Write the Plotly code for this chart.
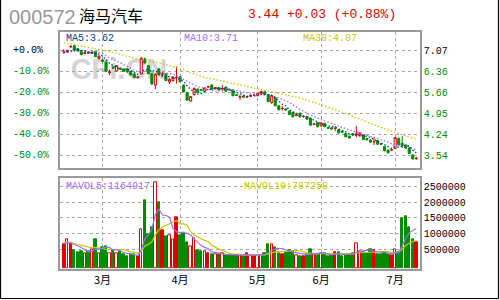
import plotly.graph_objects as go
import pandas as pd

# ---------------- data ----------------
OPEN = [7.03, 7.01, 7.19, 7.22, 7.12, 7.05, 6.96, 7.00, 6.96, 7.03,
        6.79, 6.74, 6.67, 6.31, 6.50, 6.37, 6.46, 6.43, 6.44, 6.35,
        6.27, 6.16, 6.27, 6.78, 6.55, 6.28, 5.89, 6.44, 6.27, 6.27,
        6.00, 6.05, 6.15, 6.18, 5.89, 5.65, 5.36, 5.58, 5.76, 5.74,
        5.69, 5.84, 5.90, 5.78, 5.81, 5.76, 5.83, 5.76, 5.73, 5.57,
        5.49, 5.53, 5.50, 5.52, 5.56, 5.54, 5.60, 5.67, 5.58, 5.31,
        5.47, 5.20, 5.11, 5.10, 5.02, 4.98, 4.87, 4.95, 4.84, 4.84,
        4.78, 4.57, 4.63, 4.52, 4.61, 4.47, 4.46, 4.44, 4.40, 4.34,
        4.27, 4.18, 4.26, 4.22, 4.19, 4.22, 4.10, 4.05, 3.99, 4.03,
        3.93, 3.83, 3.71, 3.72, 3.77, 4.10, 3.94, 3.88, 3.78, 3.55,
        3.44]
HIGH = [7.10, 7.09, 7.24, 7.25, 7.14, 7.07, 7.01, 7.03, 7.02, 7.05,
        6.89, 6.78, 6.69, 6.42, 6.53, 6.57, 6.50, 6.46, 6.47, 6.37,
        6.29, 6.20, 6.83, 6.82, 6.58, 6.31, 6.29, 6.47, 6.35, 6.30,
        6.13, 6.19, 6.52, 6.20, 5.92, 5.67, 5.53, 5.82, 5.78, 5.77,
        5.82, 5.87, 5.92, 5.83, 5.83, 5.90, 5.85, 5.78, 5.75, 5.60,
        5.58, 5.56, 5.54, 5.58, 5.60, 5.64, 5.70, 5.69, 5.60, 5.58,
        5.50, 5.22, 5.20, 5.12, 5.05, 5.00, 4.93, 4.97, 4.87, 4.86,
        4.80, 4.62, 4.65, 4.64, 4.62, 4.50, 4.48, 4.52, 4.42, 4.36,
        4.29, 4.20, 4.28, 4.52, 4.30, 4.24, 4.12, 4.07, 4.14, 4.05,
        3.94, 3.85, 3.73, 3.75, 4.15, 4.14, 4.18, 3.90, 3.82, 3.57,
        3.47]
LOW = [6.95, 6.98, 7.14, 7.06, 7.02, 6.90, 6.93, 6.95, 6.94, 6.84,
       6.76, 6.68, 6.33, 6.23, 6.45, 6.35, 6.41, 6.34, 6.32, 6.22,
       6.13, 6.12, 6.25, 6.62, 6.26, 5.90, 5.76, 6.22, 6.18, 6.03,
       5.93, 6.02, 5.95, 5.99, 5.65, 5.37, 5.33, 5.54, 5.63, 5.70,
       5.67, 5.80, 5.74, 5.75, 5.71, 5.68, 5.67, 5.71, 5.52, 5.53,
       5.40, 5.47, 5.46, 5.50, 5.53, 5.52, 5.58, 5.56, 5.32, 5.26,
       5.18, 5.05, 5.04, 5.04, 4.89, 4.81, 4.85, 4.80, 4.80, 4.73,
       4.53, 4.55, 4.47, 4.50, 4.48, 4.42, 4.40, 4.35, 4.27, 4.29,
       4.14, 4.09, 4.19, 4.14, 4.17, 4.05, 4.03, 3.96, 3.88, 3.89,
       3.88, 3.67, 3.58, 3.68, 3.75, 3.87, 3.78, 3.75, 3.58, 3.40,
       3.38]
CLOSE = [7.03, 7.06, 7.19, 7.08, 7.05, 6.92, 6.98, 6.97, 7.00, 6.85,
         6.87, 6.70, 6.36, 6.34, 6.47, 6.55, 6.44, 6.36, 6.34, 6.24,
         6.15, 6.16, 6.80, 6.64, 6.28, 5.94, 6.27, 6.24, 6.27, 6.05,
         6.09, 6.15, 6.15, 6.01, 5.67, 5.39, 5.51, 5.78, 5.65, 5.72,
         5.80, 5.84, 5.76, 5.81, 5.73, 5.78, 5.69, 5.74, 5.54, 5.55,
         5.51, 5.49, 5.50, 5.55, 5.56, 5.62, 5.68, 5.58, 5.34, 5.54,
         5.20, 5.07, 5.11, 5.06, 4.91, 4.83, 4.90, 4.83, 4.84, 4.75,
         4.55, 4.59, 4.50, 4.62, 4.50, 4.45, 4.42, 4.44, 4.29, 4.32,
         4.16, 4.12, 4.22, 4.25, 4.28, 4.07, 4.06, 3.98, 3.99, 3.91,
         3.91, 3.69, 3.63, 3.72, 4.13, 3.88, 3.86, 3.78, 3.60, 3.41,
         3.44]
VOLUME = [658000, 818000, 691000, 469000, 428000, 450000, 396000, 450000, 500000, 840000,
          396000, 586000, 608000, 396000, 469000, 396000, 450000, 343000, 290000, 343000,
          343000, 290000, 1157000, 2054000, 1000000, 1220000, 2637000, 1990000, 1125000, 913000,
          957000, 818000, 1520000, 967000, 1010000, 745000, 608000, 872000, 469000, 451000,
          460000, 396000, 365000, 343000, 343000, 375000, 322000, 322000, 322000, 322000,
          322000, 280000, 396000, 322000, 322000, 322000, 322000, 386000, 660000, 681000,
          586000, 396000, 365000, 428000, 469000, 450000, 322000, 300000, 290000, 365000,
          512000, 365000, 322000, 396000, 396000, 290000, 322000, 428000, 428000, 290000,
          343000, 343000, 396000, 713000, 450000, 428000, 396000, 500000, 469000, 365000,
          365000, 430000, 366000, 322000, 502000, 427995, 1500000, 1560000, 1200000, 820000,
          744585]
# sessions before the visible window (needed for the moving averages)
PRIOR_CLOSE = [7.72, 7.68, 7.75, 7.62, 7.58, 7.66, 7.55, 7.60, 7.52, 7.48, 7.50,
               7.42, 7.35, 7.30, 7.28, 7.33, 7.25, 7.22, 7.30, 7.26,
               7.15, 7.08, 7.02, 6.98, 7.05, 6.96, 6.99, 6.94, 7.01]
PRIOR_VOLUME = [820000, 760000, 790000, 740000, 790000, 690000, 720000, 660000, 722000]

MONTH_START = [11, 33, 55, 73, 94]
MONTH_LABELS = ['3月', '4月', '5月', '6月', '7月']
BASE_PRICE = 7.07
PCT_LEVELS = [0, -10, -20, -30, -40, -50]
PCT_LABELS = ['+0.0%', '-10.0%', '-20.0%', '-30.0%', '-40.0%', '-50.0%']
PRICE_LABELS = ['7.07', '6.36', '5.66', '4.95', '4.24', '3.54']
VOL_TICKS = [500000, 1000000, 1500000, 2000000, 2500000]
STOCK_CODE = '000572'
STOCK_NAME = '海马汽车'

# ---------------- derived ----------------
n = len(CLOSE)
X = list(range(n))
cs = pd.Series(PRIOR_CLOSE + CLOSE)
k = len(PRIOR_CLOSE)
ma5 = cs.rolling(5).mean().iloc[k:].tolist()
ma10 = cs.rolling(10).mean().iloc[k:].tolist()
ma30 = cs.rolling(30).mean().iloc[k:].tolist()
vs = pd.Series(PRIOR_VOLUME + VOLUME)
kv = len(PRIOR_VOLUME)
mavol5 = vs.rolling(5).mean().iloc[kv:].tolist()
mavol10 = vs.rolling(10).mean().iloc[kv:].tolist()

RED = '#e00000'
GREEN = '#008c00'
C_MA5 = '#0b3d8c'
C_MA10 = '#a56cf2'
C_MA30 = '#c8c800'
GRID = '#a8a8a8'
FRAME = '#9a9a9a'

# direction (same rule as the candlestick trace)
inc = True
prev = None
vfill, vline = [], []
for o, c in zip(OPEN, CLOSE):
    if c == o:
        if prev is not None and c != prev:
            inc = c > prev
    else:
        inc = c > o
    prev = c
    if c > o:
        vfill.append('white'); vline.append(RED)
    elif inc:
        vfill.append(RED); vline.append(RED)
    else:
        vfill.append(GREEN); vline.append(GREEN)

levels = [BASE_PRICE * (1 + p / 100) for p in PCT_LEVELS]
VOL_MIN, VOL_MAX = -100000, 2750000

fig = go.Figure()

fig.add_trace(go.Candlestick(
    x=X, open=OPEN, high=HIGH, low=LOW, close=CLOSE,
    increasing=dict(line=dict(color=RED, width=1), fillcolor='white'),
    decreasing=dict(line=dict(color=GREEN, width=1), fillcolor=GREEN),
    whiskerwidth=0, xaxis='x', yaxis='y', hoverinfo='skip'))

for ys, col in [(ma30, C_MA30), (ma10, C_MA10), (ma5, C_MA5)]:
    fig.add_trace(go.Scatter(x=X, y=ys, mode='lines', xaxis='x', yaxis='y',
                             line=dict(color=col, width=1.3, dash='1.5px,2px'),
                             hoverinfo='skip'))

fig.add_trace(go.Bar(
    x=X, y=[v - VOL_MIN for v in VOLUME], base=[VOL_MIN] * n, width=0.68,
    marker=dict(color=vfill, line=dict(color=vline, width=1)),
    xaxis='x2', yaxis='y2', hoverinfo='skip'))
fig.add_trace(go.Scatter(x=X, y=mavol10, mode='lines', xaxis='x2', yaxis='y2',
                         line=dict(color=C_MA30, width=1.2), hoverinfo='skip'))
fig.add_trace(go.Scatter(x=X, y=mavol5, mode='lines', xaxis='x2', yaxis='y2',
                         line=dict(color=C_MA10, width=1.2), hoverinfo='skip'))

price_ticktext = []
for i, t in enumerate(PRICE_LABELS):
    col = 'black' if i == 0 else GREEN
    price_ticktext.append(f'<span style="color:{col}">{t}</span>')

XD = [60 / 500, 420 / 500]
XR = [-1.05, 101.05]
common_x = dict(domain=XD, range=XR, tickvals=MONTH_START, showgrid=True,
                gridcolor=GRID, griddash='dot', gridwidth=1, showline=True,
                mirror=True, linecolor=FRAME, linewidth=1.5, zeroline=False,
                ticks='', fixedrange=True)
fig.update_layout(
    width=500, height=300, margin=dict(l=0, r=0, t=0, b=0),
    paper_bgcolor='white', plot_bgcolor='rgba(0,0,0,0)',
    showlegend=False, boxgap=0.15, bargap=0,
    xaxis=dict(**common_x, anchor='y', showticklabels=False,
               rangeslider=dict(visible=False)),
    yaxis=dict(domain=[1 - 167.7 / 300, 1 - 31.7 / 300], range=[3.119, 7.691],
               side='right', anchor='x', tickvals=levels, ticktext=price_ticktext,
               tickfont=dict(family='Liberation Mono', size=10, color='black'),
               showgrid=True, gridcolor=GRID, griddash='dot', gridwidth=1,
               showline=True, mirror=True, linecolor=FRAME, linewidth=1.5,
               zeroline=False, ticks='', fixedrange=True),
    xaxis2=dict(**common_x, anchor='y2', ticktext=MONTH_LABELS,
                tickfont=dict(family='Noto Sans CJK SC', size=11, color='black')),
    yaxis2=dict(domain=[1 - 268.7 / 300, 1 - 178.3 / 300], range=[VOL_MIN, VOL_MAX],
                side='right', anchor='x2', tickvals=VOL_TICKS,
                ticktext=[str(v) for v in VOL_TICKS],
                tickfont=dict(family='Liberation Mono', size=10, color='black'),
                showgrid=True, gridcolor=GRID, griddash='dot', gridwidth=1,
                showline=True, mirror=True, linecolor=FRAME, linewidth=1.5,
                zeroline=False, ticks='', fixedrange=True),
)

def px(x):
    return x / 500

def py(y):
    return 1 - y / 300

ann = []
def text(x, y, s, size, color, family='Liberation Mono', yref='paper'):
    ann.append(dict(x=x, y=y, xref='paper', yref=yref, text=s, showarrow=False,
                    xanchor='left', yanchor='middle',
                    font=dict(family=family, size=size, color=color)))

# header
last, prevc = CLOSE[-1], CLOSE[-2]
chg = last - prevc
pct = chg / prevc * 100
text(px(6.5), py(16.7), STOCK_CODE, 20, '#999999', 'Liberation Sans')
text(px(76.5), py(15), STOCK_NAME, 16, 'black', 'Noto Sans CJK SC')
text(px(245.5), py(14.5), f'{last:.2f} {chg:+.2f} ({pct:+.2f}%)', 13, RED)

# MA legends
text(px(63.5), py(38.3), f'MA5:{ma5[-1]:.2f}', 10, C_MA5)
text(px(181.5), py(38.3), f'MA10:{ma10[-1]:.2f}', 10, C_MA10)
text(px(301), py(38.3), f'MA30:{ma30[-1]:.2f}', 10, C_MA30)
text(px(64), py(186), f'MAVOL5:{mavol5[-1]:.0f}', 10, C_MA10)
text(px(241.5), py(186), f'MAVOL10:{mavol10[-1]:.0f}', 10, C_MA30)

# left percent axis labels
for i, (lv, t) in enumerate(zip(levels, PCT_LABELS)):
    text(px(10.5), lv, t, 10, 'black' if i == 0 else GREEN, yref='y')

fig.update_layout(annotations=ann)

# watermark (below the data)
fig.add_shape(type='rect', xref='paper', yref='paper',
              x0=px(68), x1=px(170), y0=py(78), y1=py(53),
              line=dict(width=0), fillcolor='rgba(0,0,0,0)', layer='below',
              label=dict(text='CFi.CN', textposition='middle center',
                         font=dict(family='Liberation Sans', size=29,
                                   color='#d4d4d4', weight='bold')))

# outer frame
for x0, y0, x1, y1 in [(0.5, 0, 0.5, 298.5), (498.5, 0, 498.5, 298.5),
                       (0.5, 298.5, 498.5, 298.5)]:
    fig.add_shape(type='line', xref='paper', yref='paper',
                  x0=px(x0), y0=py(y0), x1=px(x1), y1=py(y1),
                  line=dict(color='black', width=1.2))

fig.write_html('out.html')
